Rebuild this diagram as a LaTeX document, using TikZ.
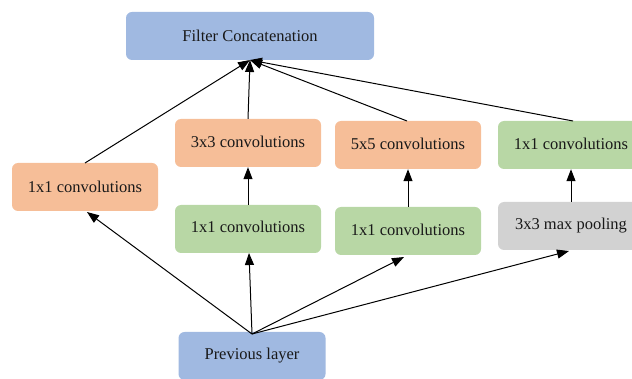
\documentclass[tikz,border=0pt]{standalone}
\usepackage{fontspec}
\setmainfont{Liberation Serif}
\usetikzlibrary{arrows.meta}
\definecolor{cblue}{RGB}{160,185,225}
\definecolor{corange}{RGB}{246,190,152}
\definecolor{cgreen}{RGB}{184,215,165}
\definecolor{cgray}{RGB}{210,210,210}
\tikzset{
  box/.style={rounded corners=6pt, minimum height=48pt, inner sep=0pt, font=\fontsize{16.5}{19}\selectfont, text=black!90},
  conn/.style={-{Triangle[length=12pt,width=9pt]}, line width=1pt, black},
}
\begin{document}
\begin{tikzpicture}[x=1pt,y=-1pt]
\useasboundingbox (0,0) rectangle (632,379);
\begin{scope}
\clip (0,0) rectangle (632,379);
\node[box, fill=cblue, minimum width=248pt] (fc) at (250,36) {Filter Concatenation};
\node[box, fill=corange, minimum width=146pt] (l1) at (85,187) {1x1 convolutions};
\node[box, fill=corange, minimum width=146pt] (c3) at (248,143) {\raisebox{3pt}{3x3 convolutions}};
\node[box, fill=corange, minimum width=146pt] (c5) at (408,145) {\raisebox{2pt}{5x5 convolutions}};
\node[box, fill=cgreen, minimum width=146pt] (r1) at (571,145) {\raisebox{3pt}{1x1 convolutions}};
\node[box, fill=cgreen, minimum width=146pt] (g1) at (248,229) {\raisebox{4pt}{1x1 convolutions}};
\node[box, fill=cgreen, minimum width=146pt] (g2) at (408,231) {\raisebox{3pt}{1x1 convolutions}};
\node[box, fill=cgray, minimum width=146pt] (mp) at (571,226) {\raisebox{3pt}{3x3 max pooling}};
\node[box, fill=cblue, minimum width=147pt] (pl) at (252,356) {\raisebox{3pt}{Previous layer}};
\coordinate (fcb) at (250,60);
\coordinate (plt) at (252,334);
\draw[conn] (85,163) -- (fcb);
\draw[conn] (c3.north) -- (fcb);
\draw[conn] (407,121) -- (fcb);
\draw[conn] (573,121) -- (fcb);
\draw[conn] (g1.north) -- (c3.south);
\draw[conn] (g2.north) -- (c5.south);
\draw[conn] (mp.north) -- (r1.south);
\draw[conn] (plt) -- (87,212);
\draw[conn] (plt) -- (249,253);
\draw[conn] (plt) -- (404,257);
\draw[conn] (plt) -- (569,251);
\end{scope}
\end{tikzpicture}
\end{document}
